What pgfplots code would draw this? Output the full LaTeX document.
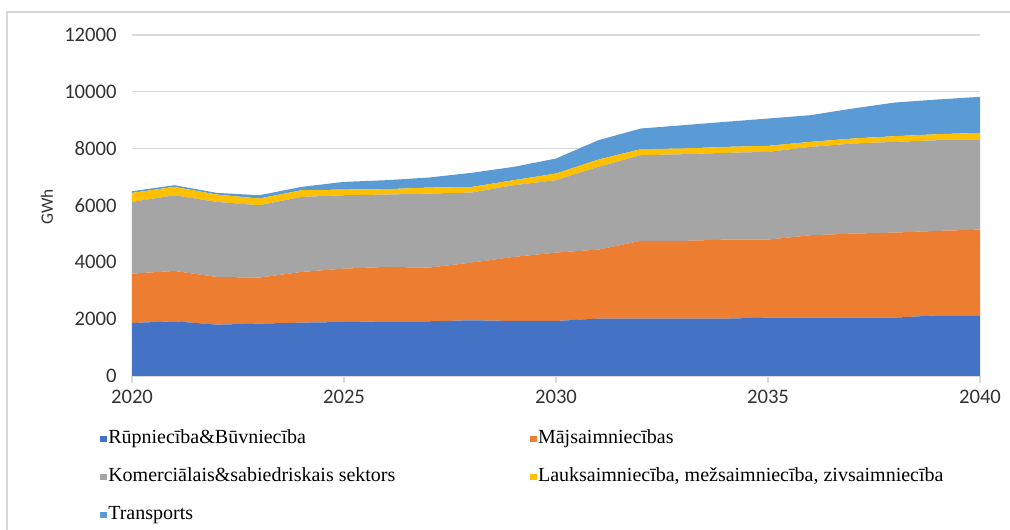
\documentclass[border=0pt]{standalone}
\usepackage{fontspec}
\setmainfont{Carlito}
\newfontfamily\legfont{Liberation Serif}
\usepackage{pgfplots}
\pgfplotsset{compat=1.18}
\definecolor{cR}{HTML}{4472C4}
\definecolor{cM}{HTML}{ED7D31}
\definecolor{cK}{HTML}{A5A5A5}
\definecolor{cL}{HTML}{FFC000}
\definecolor{cT}{HTML}{5B9BD5}
\definecolor{gridc}{HTML}{D9D9D9}
\begin{document}
\begin{tikzpicture}
\path[use as bounding box] (0,0) rectangle (757.5pt,397.5pt);
\draw[gridc, line width=0.8pt] (5.25pt,0pt) -- (5.25pt,388.5pt) -- (757.5pt,388.5pt);
\begin{axis}[
  at={(99pt,115.5pt)}, anchor=south west,
  scale only axis, width=636pt, height=255.75pt,
  xmin=2020, xmax=2040, ymin=0, ymax=12000,
  xtick={2020,2025,2030,2035,2040},
  ytick={0,2000,4000,6000,8000,10000,12000},
  scaled y ticks=false,
  /pgf/number format/1000 sep={},
  /pgf/number format/assume math mode=true,
  ticklabel style={font=\fontsize{15.5}{17}\selectfont, text=black!80},
  axis x line*=bottom,
  axis y line*=left,
  y axis line style={draw=none},
  ytick style={draw=none},
  x axis line style={gridc},
  xtick style={gridc, line width=0.8pt},
  major tick length=5pt,
  xtick pos=bottom, tick align=outside,
  ymajorgrids, grid style={gridc, line width=0.8pt},
  yticklabel style={xshift=-3pt},
  xticklabel style={yshift=-2pt},
  stack plots=y,
  legend columns=2,
  legend cell align=left,
  legend style={at={(-27pt,-37.5pt)}, anchor=north west, draw=none, fill=none,
    font=\legfont\fontsize{15}{17}\selectfont, row sep=13.5pt,
    /tikz/every even column/.append style={column sep=100pt},
    nodes={inner sep=1pt, text height=10pt, text depth=3pt}},
  legend image code/.code={\fill[#1] (0pt,-2.5pt) rectangle (5pt,2.5pt);},
]
\addplot[fill=cR, draw=none] coordinates {
(2020,1866) (2021,1925) (2022,1808) (2023,1843) (2024,1878) (2025,1900)
(2026,1925) (2027,1925) (2028,1960) (2029,1937) (2030,1937) (2031,2019)
(2032,2019) (2033,2019) (2034,2019) (2035,2054) (2036,2054) (2037,2054)
(2038,2054) (2039,2136) (2040,2136)} \closedcycle;
\addlegendentry{Rūpniecība\&Būvniecība}
\addplot[fill=cM, draw=none] coordinates {
(2020,1737) (2021,1772) (2022,1678) (2023,1619) (2024,1784) (2025,1879)
(2026,1913) (2027,1889) (2028,2030) (2029,2253) (2030,2406) (2031,2429)
(2032,2735) (2033,2735) (2034,2781) (2035,2746) (2036,2899) (2037,2958)
(2038,2993) (2039,2970) (2040,3017)} \closedcycle;
\addlegendentry{Mājsaimniecības}
\addplot[fill=cK, draw=none] coordinates {
(2020,2524) (2021,2664) (2022,2641) (2023,2547) (2024,2641) (2025,2582)
(2026,2547) (2027,2606) (2028,2465) (2029,2524) (2030,2547) (2031,2911)
(2032,3016) (2033,3051) (2034,3052) (2035,3087) (2036,3110) (2037,3169)
(2038,3192) (2039,3192) (2040,3145)} \closedcycle;
\addlegendentry{Komerciālais\&sabiedriskais sektors}
\addplot[fill=cL, draw=none] coordinates {
(2020,317) (2021,294) (2022,258) (2023,235) (2024,235) (2025,200)
(2026,188) (2027,211) (2028,195) (2029,176) (2030,235) (2031,258)
(2032,211) (2033,200) (2034,211) (2035,212) (2036,176) (2037,176)
(2038,200) (2039,211) (2040,258)} \closedcycle;
\addlegendentry{Lauksaimniecība, mežsaimniecība, zivsaimniecība}
\addplot[fill=cT, draw=none] coordinates {
(2020,58) (2021,59) (2022,59) (2023,117) (2024,117) (2025,270)
(2026,317) (2027,353) (2028,498) (2029,469) (2030,528) (2031,681)
(2032,728) (2033,821) (2034,881) (2035,962) (2036,939) (2037,1056)
(2038,1185) (2039,1221) (2040,1268)} \closedcycle;
\addlegendentry{Transports}
\end{axis}
\node[rotate=90, font=\fontsize{13}{15}\selectfont, text=black!80] at (35.25pt,242.25pt) {GWh};
\end{tikzpicture}
\end{document}
